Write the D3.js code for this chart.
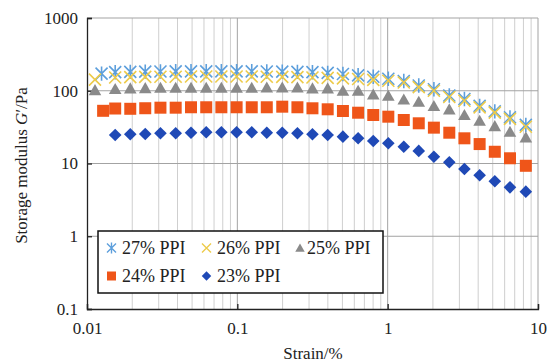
<!DOCTYPE html>
<html lang="en">
<head>
<meta charset="UTF-8">
<title>Storage modulus vs strain</title>
<script src="https://cdn.jsdelivr.net/npm/d3@7"></script>
<style>
  body {
    margin: 0;
    background: #fff;
  }
  svg, svg text {
    font-family: "Liberation Serif", "Times New Roman", serif;
  }
  .grid-minor { stroke: #cfcfcf; stroke-width: 1; }
  .grid-major { stroke: #a3a3a3; stroke-width: 1; }
  .axis path, .axis line { stroke: #222; stroke-width: 1.3; }
  .axis text { font-size: 17px; fill: #222; font-family: "Liberation Serif", serif; }
</style>
</head>
<body>
<svg id="chart" width="555" height="363"></svg>
<script>
  // strain (%) of the common measuring points
  var strain = [0.0154, 0.0194, 0.0244, 0.0308, 0.0389, 0.0492, 0.0621, 0.0783, 0.0989, 0.1247,
                0.157, 0.199, 0.251, 0.316, 0.399, 0.504, 0.636, 0.802, 1.01, 1.28,
                1.61, 2.03, 2.57, 3.24, 4.09, 5.16, 6.51, 8.3];

  // storage modulus G' (Pa) per formulation
  var g27 = [180, 182, 183, 184, 185, 185, 185, 185, 185, 185,
             184, 183, 182, 180, 176, 170, 163, 156, 146, 136,
             118, 105, 86, 77, 62, 52, 43, 34];
  var g26 = [152, 154, 155, 156, 156, 157, 157, 157, 157, 157,
             156, 155, 154, 152, 150, 148, 145, 141, 137, 130,
             112, 100, 82, 73, 59, 50, 41, 32];
  var g25 = [106, 108, 109, 110, 110, 110, 110, 110, 110, 110,
             111, 111, 111, 108, 108, 100, 100, 89, 85.5, 76,
             70.7, 61.7, 55.6, 46.4, 38.7, 32.7, 27.4, 22.9];
  var g24 = [57, 56.5, 57.5, 58.5, 58.5, 59.3, 59.3, 59.3, 59.3, 59.3,
             59.3, 60.4, 59.3, 57.4, 55.6, 52.7, 49.9, 46.4, 44.0, 39.6,
             35.7, 31.1, 26.5, 22.2, 18.5, 14.5, 11.8, 9.3];
  var g23 = [24.6, 25.2, 25.4, 26.0, 26.0, 26.5, 26.9, 26.9, 26.9, 26.9,
             26.5, 26.5, 26.0, 25.2, 24.6, 23.4, 22.2, 20.4, 19.0, 17.0,
             14.9, 12.4, 10.4, 8.4, 6.9, 5.7, 4.7, 4.1];

  // extra first point some series have before the common grid: [strain, G']
  var lead27 = [0.0125, 172];
  var lead26 = [0.0113, 142];
  var lead25 = [0.0113, 102];
  var lead24 = [0.0128, 53];

  var seriesNames = ["27% PPI", "26% PPI", "25% PPI", "24% PPI", "23% PPI"];
  var yTicks = [0.1, 1, 10, 100, 1000];
  var xTicks = [0.01, 0.1, 1, 10];

  var margin = {top: 18, right: 17, bottom: 54, left: 87},
      width = 555 - margin.left - margin.right,
      height = 363 - margin.top - margin.bottom;

  var x = d3.scaleLog().domain([0.01, 10]).range([0, width]);
  var y = d3.scaleLog().domain([0.1, 1000]).range([height, 0]);

  var svg = d3.select("#chart")
    .append("g")
      .attr("transform", "translate(" + margin.left + "," + margin.top + ")");

  // marker shapes, r = half size in px
  var shapes = {
    asterisk: function(r) {
      var p = d3.path();
      p.moveTo(-r, -r); p.lineTo(r, r);
      p.moveTo(-r, r); p.lineTo(r, -r);
      p.moveTo(0, -r * 1.2); p.lineTo(0, r * 1.2);
      return p.toString();
    },
    cross: function(r) {
      var p = d3.path();
      p.moveTo(-r, -r); p.lineTo(r, r);
      p.moveTo(-r, r); p.lineTo(r, -r);
      return p.toString();
    },
    triangle: function(r) {
      var p = d3.path();
      p.moveTo(0, -r); p.lineTo(r * 1.05, r * 0.85); p.lineTo(-r * 1.05, r * 0.85); p.closePath();
      return p.toString();
    },
    square: function(r) {
      var p = d3.path();
      p.rect(-r, -r, 2 * r, 2 * r);
      return p.toString();
    },
    diamond: function(r) {
      var p = d3.path();
      p.moveTo(0, -r); p.lineTo(r, 0); p.lineTo(0, r); p.lineTo(-r, 0); p.closePath();
      return p.toString();
    }
  };

  function withLead(lead, values) {
    var pts = values.map(function(v, i) { return [strain[i], v]; });
    return lead ? [lead].concat(pts) : pts;
  }

  var series = [
    {name: seriesNames[0], shape: "asterisk", color: "#5d9fdc", stroke: true, r: 6, pts: withLead(lead27, g27)},
    {name: seriesNames[1], shape: "cross", color: "#edcb4a", stroke: true, r: 6, pts: withLead(lead26, g26)},
    {name: seriesNames[2], shape: "triangle", color: "#8a8a8a", stroke: false, r: 6, pts: withLead(lead25, g25)},
    {name: seriesNames[3], shape: "square", color: "#ef5519", stroke: false, r: 6, pts: withLead(lead24, g24)},
    {name: seriesNames[4], shape: "diamond", color: "#1f49b6", stroke: false, r: 6.3, pts: withLead(null, g23)}
  ];

  // vertical grid: every 1..9 step of each decade
  var xGrid = x.ticks().filter(function(d) { return d > 0.01 && d < 10; });
  svg.append("g").selectAll("line")
      .data(xGrid)
    .enter().append("line")
      .attr("class", function(d) { return xTicks.indexOf(d) >= 0 ? "grid-major" : "grid-minor"; })
      .attr("x1", function(d) { return x(d); })
      .attr("x2", function(d) { return x(d); })
      .attr("y1", 0)
      .attr("y2", height);

  // horizontal grid at decades only
  svg.append("g").selectAll("line")
      .data(yTicks.filter(function(d) { return d > 0.1; }))
    .enter().append("line")
      .attr("class", "grid-major")
      .attr("x1", 0)
      .attr("x2", width)
      .attr("y1", function(d) { return y(d); })
      .attr("y2", function(d) { return y(d); });

  // right border
  svg.append("line")
      .attr("class", "grid-major")
      .attr("x1", width).attr("x2", width)
      .attr("y1", 0).attr("y2", height);

  svg.append("g")
      .attr("class", "axis")
      .attr("font-family", null)
      .call(d3.axisLeft(y).tickValues(yTicks).tickFormat(d3.format("~g")).tickSize(-5).tickPadding(9));

  svg.append("g")
      .attr("class", "axis")
      .attr("transform", "translate(0," + height + ")")
      .call(d3.axisBottom(x).tickValues(xTicks).tickFormat(d3.format("~g")).tickSize(-5).tickPadding(13));

  svg.selectAll(".axis").attr("font-family", "Liberation Serif, serif");

  // markers
  series.forEach(function(s) {
    svg.append("g").selectAll("path")
        .data(s.pts)
      .enter().append("path")
        .attr("transform", function(d) { return "translate(" + x(d[0]) + "," + y(d[1]) + ")"; })
        .attr("d", shapes[s.shape](s.r))
        .attr("fill", s.stroke ? "none" : s.color)
        .attr("stroke", s.stroke ? s.color : "none")
        .attr("stroke-width", s.stroke ? 1.6 : 0);
  });

  // legend
  var legend = svg.append("g")
      .attr("transform", "translate(11,213)");

  legend.append("rect")
      .attr("width", 285)
      .attr("height", 62)
      .attr("fill", "#fff")
      .attr("stroke", "#111")
      .attr("stroke-width", 1.5);

  var colX = [13.5, 108.5, 202], rowY = [17, 45];
  var item = legend.selectAll(".item")
      .data(series)
    .enter().append("g")
      .attr("class", "item")
      .attr("transform", function(d, i) { return "translate(" + colX[i % 3] + "," + rowY[Math.floor(i / 3)] + ")"; });

  item.append("path")
      .attr("d", function(d) { return shapes[d.shape](d.r * 0.75); })
      .attr("fill", function(d) { return d.stroke ? "none" : d.color; })
      .attr("stroke", function(d) { return d.stroke ? d.color : "none"; })
      .attr("stroke-width", function(d) { return d.stroke ? 1.4 : 0; });

  item.append("text")
      .attr("x", function(d, i) { return i === 2 ? 7 : 10.5; })
      .attr("y", 6)
      .style("font-size", "18px")
      .attr("fill", "#222")
      .text(function(d) { return d.name; });

  // axis titles
  svg.append("text")
      .attr("x", 226)
      .attr("y", height + 50)
      .attr("text-anchor", "middle")
      .style("font-size", "17px")
      .attr("fill", "#222")
      .text("Strain/%");

  var yTitle = svg.append("text")
      .attr("transform", "translate(-60," + (height / 2 + 2) + ") rotate(-90)")
      .attr("text-anchor", "middle")
      .style("font-size", "17px")
      .attr("fill", "#222");
  yTitle.append("tspan").text("Storage modulus ");
  yTitle.append("tspan").style("font-style", "italic").text("G");
  yTitle.append("tspan").text("\u2032/Pa");
</script>
</body>
</html>
